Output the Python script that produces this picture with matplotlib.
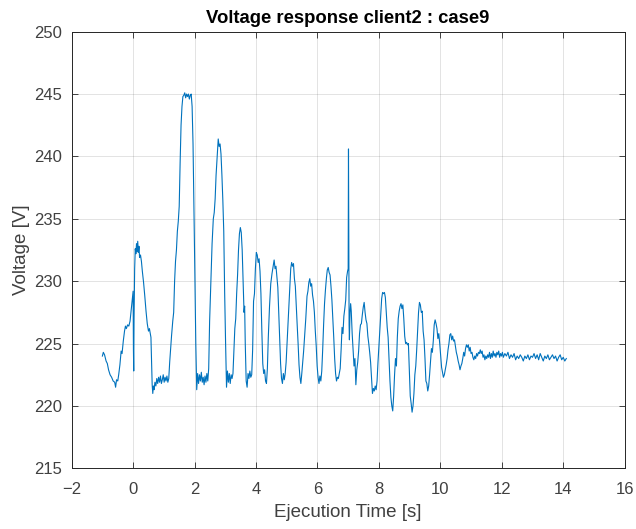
import matplotlib
matplotlib.use("Agg")
import matplotlib.pyplot as plt

# tiempo de ejecucion [s] y tension [V]
tiempo = [
    -1.00, -0.97, -0.93, -0.88, -0.84, -0.80, -0.75, -0.70, -0.65, -0.60, -0.57, -0.54, -0.50, -0.47, -0.43, -0.39,
    -0.36, -0.32, -0.28, -0.25, -0.22, -0.18, -0.14, -0.10, -0.07, -0.04, -0.02, 0.00, 0.01, 0.02, 0.03, 0.05,
    0.07, 0.09, 0.11, 0.13, 0.15, 0.17, 0.19, 0.21, 0.24, 0.27, 0.30, 0.34, 0.38, 0.42, 0.46, 0.50,
    0.53, 0.56, 0.58, 0.60, 0.62, 0.64, 0.66, 0.68, 0.71, 0.74, 0.77, 0.80, 0.83, 0.86, 0.89, 0.92,
    0.95, 0.98, 1.01, 1.04, 1.07, 1.10, 1.13, 1.16, 1.19, 1.22, 1.25, 1.29, 1.32, 1.35, 1.38, 1.41,
    1.44, 1.47, 1.50, 1.53, 1.56, 1.59, 1.62, 1.65, 1.68, 1.71, 1.74, 1.77, 1.80, 1.83, 1.86, 1.89,
    1.92, 1.95, 1.98, 2.01, 2.04, 2.07, 2.10, 2.13, 2.16, 2.19, 2.22, 2.25, 2.28, 2.31, 2.34, 2.37,
    2.40, 2.43, 2.46, 2.49, 2.53, 2.57, 2.61, 2.64, 2.67, 2.70, 2.74, 2.77, 2.80, 2.83, 2.86, 2.89,
    2.92, 2.95, 2.98, 3.01, 3.04, 3.07, 3.10, 3.13, 3.16, 3.19, 3.22, 3.25, 3.28, 3.31, 3.34, 3.37,
    3.40, 3.43, 3.46, 3.49, 3.52, 3.55, 3.58, 3.61, 3.63, 3.65, 3.68, 3.71, 3.74, 3.77, 3.80, 3.83,
    3.86, 3.89, 3.92, 3.95, 3.98, 4.01, 4.04, 4.07, 4.10, 4.13, 4.16, 4.19, 4.22, 4.25, 4.28, 4.31,
    4.34, 4.37, 4.40, 4.44, 4.48, 4.52, 4.56, 4.59, 4.62, 4.65, 4.68, 4.71, 4.74, 4.77, 4.80, 4.83,
    4.86, 4.89, 4.92, 4.95, 4.98, 5.02, 5.06, 5.10, 5.13, 5.16, 5.19, 5.22, 5.25, 5.28, 5.31, 5.34,
    5.37, 5.40, 5.43, 5.46, 5.49, 5.52, 5.55, 5.58, 5.62, 5.66, 5.69, 5.72, 5.75, 5.78, 5.81, 5.84,
    5.87, 5.90, 5.93, 5.96, 5.99, 6.02, 6.05, 6.08, 6.11, 6.14, 6.17, 6.20, 6.23, 6.26, 6.29, 6.32,
    6.35, 6.38, 6.41, 6.44, 6.47, 6.50, 6.53, 6.56, 6.59, 6.62, 6.65, 6.68, 6.71, 6.74, 6.77, 6.80,
    6.83, 6.86, 6.89, 6.92, 6.95, 6.98, 7.00, 7.01, 7.02, 7.03, 7.04, 7.06, 7.08, 7.10, 7.13, 7.16,
    7.19, 7.22, 7.25, 7.28, 7.31, 7.34, 7.37, 7.40, 7.43, 7.46, 7.49, 7.52, 7.55, 7.58, 7.61, 7.64,
    7.67, 7.70, 7.73, 7.76, 7.79, 7.82, 7.85, 7.88, 7.91, 7.94, 7.97, 8.00, 8.03, 8.06, 8.09, 8.12,
    8.15, 8.18, 8.21, 8.24, 8.27, 8.30, 8.33, 8.36, 8.39, 8.42, 8.45, 8.48, 8.51, 8.54, 8.57, 8.60,
    8.63, 8.66, 8.69, 8.72, 8.75, 8.78, 8.81, 8.84, 8.87, 8.90, 8.93, 8.96, 8.99, 9.02, 9.05, 9.08,
    9.11, 9.14, 9.17, 9.20, 9.23, 9.26, 9.29, 9.32, 9.35, 9.38, 9.41, 9.44, 9.47, 9.50, 9.53, 9.56,
    9.59, 9.62, 9.65, 9.68, 9.71, 9.74, 9.77, 9.80, 9.83, 9.86, 9.89, 9.92, 9.95, 9.98, 10.01, 10.04,
    10.07, 10.10, 10.13, 10.16, 10.19, 10.22, 10.25, 10.28, 10.31, 10.34, 10.37, 10.40, 10.43, 10.46, 10.49, 10.52,
    10.55, 10.58, 10.61, 10.64, 10.67, 10.70, 10.73, 10.76, 10.79, 10.82, 10.85, 10.88, 10.91, 10.94, 10.97, 11.00,
    11.03, 11.06, 11.09, 11.12, 11.15, 11.18, 11.21, 11.24, 11.27, 11.30, 11.33, 11.36, 11.39, 11.42, 11.45, 11.48,
    11.51, 11.54, 11.57, 11.60, 11.63, 11.66, 11.69, 11.72, 11.75, 11.78, 11.81, 11.84, 11.87, 11.90, 11.93, 11.96,
    11.99, 12.02, 12.05, 12.10, 12.15, 12.20, 12.25, 12.30, 12.35, 12.40, 12.45, 12.50, 12.55, 12.60, 12.65, 12.70,
    12.75, 12.80, 12.85, 12.90, 12.95, 13.00, 13.05, 13.10, 13.15, 13.20, 13.25, 13.30, 13.35, 13.40, 13.45, 13.50,
    13.55, 13.60, 13.65, 13.70, 13.75, 13.80, 13.85, 13.90, 13.95, 14.00, 14.05, 14.10,
]
tension = [
    224.0, 224.3, 224.1, 223.6, 223.4, 222.9, 222.5, 222.3, 222.0, 221.9, 221.5, 222.1, 222.0, 222.5, 223.3, 224.4,
    224.2, 225.2, 226.0, 226.4, 226.2, 226.5, 226.4, 226.8, 227.5, 228.2, 228.7, 229.2, 224.5, 222.8, 227.0, 231.0,
    232.6, 232.2, 233.0, 232.4, 233.2, 232.3, 232.8, 231.9, 232.1, 231.6, 230.8, 229.9, 228.8, 227.6, 226.6, 226.0,
    226.2, 225.8, 225.5, 223.5, 221.7, 221.0, 221.6, 221.3, 221.9, 221.6, 222.2, 221.8, 222.3, 221.9, 222.4, 221.8,
    222.1, 222.5, 221.9, 222.3, 222.0, 222.4, 221.9, 222.2, 223.5, 224.6, 225.6, 226.8, 227.5, 230.0, 231.6, 232.5,
    234.0, 234.8, 236.0, 239.5, 242.5, 244.0, 244.8, 244.9, 245.1, 244.7, 245.0, 244.8, 245.0, 244.6, 244.9, 245.0,
    244.0, 241.0, 236.0, 230.5, 225.0, 221.3, 222.6, 221.8, 222.5, 222.0, 222.7, 221.9, 222.3, 221.7, 222.4, 221.9,
    222.6, 222.0, 223.0, 226.8, 230.0, 233.0, 235.0, 235.5, 236.6, 238.5, 240.2, 241.4, 240.8, 241.0, 240.2, 238.5,
    236.5, 234.0, 229.0, 225.0, 221.5, 222.8, 221.9, 222.6, 221.8, 222.5, 222.2, 222.6, 224.5, 226.2, 227.0, 229.0,
    230.5, 232.5, 233.8, 234.3, 233.9, 232.5, 230.0, 227.5, 228.0, 225.0, 222.0, 221.5, 222.6, 222.2, 222.8, 222.3,
    222.5, 224.5, 228.4, 229.0, 231.0, 232.3, 232.1, 231.5, 231.8, 230.8, 229.0, 226.0, 223.4, 222.6, 222.9, 222.0,
    221.8, 223.0, 225.5, 228.0, 229.8, 230.6, 231.2, 231.7, 231.0, 231.2, 230.3, 229.5, 227.5, 225.3, 223.4, 222.2,
    221.8, 222.6, 222.1, 222.6, 223.5, 225.5, 227.4, 229.5, 231.0, 231.5, 231.2, 231.4, 230.2, 229.6, 228.0, 226.5,
    225.0, 223.3, 222.3, 221.8, 222.6, 223.5, 224.4, 225.5, 227.0, 228.8, 229.2, 229.9, 230.2, 229.6, 229.8, 228.9,
    228.4, 227.5, 226.0, 224.8, 223.2, 222.3, 221.8, 222.4, 222.0, 222.8, 224.5, 226.5, 228.2, 229.3, 230.2, 230.9,
    231.1, 230.7, 230.5, 229.6, 228.5, 227.0, 225.5, 223.8, 222.6, 222.0, 222.3, 222.2, 222.6, 223.0, 224.5, 226.3,
    225.8, 227.2, 227.8, 228.5, 230.3, 230.8, 231.0, 240.6, 233.0, 226.5, 225.3, 227.5, 228.2, 227.6, 225.8, 224.5,
    223.2, 223.8, 221.7, 222.9, 223.5, 224.4, 225.8, 226.5, 226.6, 227.3, 227.9, 228.3, 227.5, 226.9, 226.6, 225.6,
    225.0, 224.3, 223.5, 222.3, 221.0, 221.4, 221.2, 221.6, 221.3, 222.0, 223.5, 224.8, 226.0, 227.5, 228.6, 229.1,
    229.0, 229.1, 228.7, 227.5, 226.3, 225.5, 223.8, 222.0, 220.7, 220.0, 219.6, 220.8, 222.5, 223.8, 223.2, 225.5,
    227.0, 227.6, 228.0, 228.2, 227.8, 228.1, 227.0, 225.6, 225.0, 225.1, 224.9, 225.0, 223.0, 220.8, 220.2, 219.5,
    220.0, 221.0, 222.5, 223.2, 224.5, 226.0, 227.5, 228.3, 228.1, 227.5, 227.6, 226.0, 225.3, 223.8, 222.0, 221.8,
    221.2, 221.6, 222.5, 223.6, 224.6, 224.3, 225.2, 226.5, 226.9, 226.6, 226.2, 225.4, 225.8, 225.0, 224.0, 223.1,
    222.7, 222.3, 222.5, 222.9, 223.3, 223.8, 224.5, 225.0, 225.7, 225.8, 225.3, 225.6, 225.2, 225.3, 224.8, 224.3,
    224.0, 223.6, 223.3, 222.9, 223.2, 223.4, 223.8, 224.3, 224.0, 224.6, 224.9, 224.7, 224.9, 224.4, 224.7, 224.2,
    224.3, 223.9, 223.7, 224.0, 223.8, 224.2, 224.0, 224.3, 224.2, 224.5, 224.2, 224.4, 223.9, 224.1, 223.7, 224.0,
    223.8, 224.1, 223.9, 224.3, 223.8, 224.2, 223.9, 224.4, 224.0, 224.2, 223.9, 224.3, 224.1, 224.4, 223.9, 224.2,
    224.0, 224.3, 223.9, 224.2, 224.0, 224.3, 223.8, 224.1, 223.9, 224.2, 223.7, 224.0, 223.8, 224.1, 223.9, 223.6,
    224.0, 223.8, 224.1, 223.7, 224.0, 223.9, 224.2, 223.8, 224.1, 223.7, 224.2, 223.9, 223.6, 224.0, 223.8, 224.1,
    223.7, 223.9, 224.1, 223.8, 224.0, 223.6, 223.9, 224.1, 223.7, 223.9, 223.6, 223.8,
]

plt.rcParams['font.family'] = ['Liberation Sans', 'DejaVu Sans']

fig = plt.figure(figsize=(6.36, 5.29), dpi=100)
ax = fig.add_axes([0.1127, 0.1147, 0.8695, 0.8254])

ax.plot(tiempo, tension, color='#0072BD', linewidth=0.8)

ax.set_xlim(-2, 16)
ax.set_ylim(215, 250)
ax.set_xticks(range(-2, 17, 2))
ax.set_yticks(range(215, 251, 5))
ax.grid(True, color='#262626', alpha=0.15, linewidth=0.6)
ax.tick_params(direction='in', length=4, width=0.6, colors='#262626', labelcolor='#404040',
               labelsize=12, top=True, right=True)
ax.tick_params(axis='x', pad=10)
ax.tick_params(axis='y', pad=7)
for lado in ax.spines.values():
    lado.set_color('#262626')
    lado.set_linewidth(0.7)

ax.set_title('Voltage response client2 : case9', fontsize=13.3, fontweight='bold', pad=6)
ax.set_xlabel('Ejecution Time [s]', fontsize=13.5, color='#404040', labelpad=5)
ax.set_ylabel('Voltage [V]', fontsize=13.5, color='#404040', labelpad=3)

fig.savefig('out.png', dpi=100)
